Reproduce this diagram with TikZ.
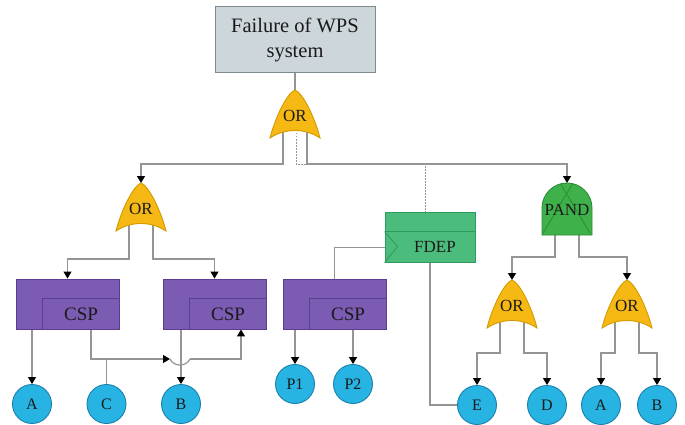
\documentclass[tikz,border=0pt]{standalone}
\usepackage{fontspec}
\setmainfont{Liberation Serif}
\usetikzlibrary{arrows.meta,calc}
\pgfdeclarelayer{bg}
\pgfsetlayers{bg,main}

\definecolor{titlefill}{HTML}{CDD6DA}
\definecolor{titledraw}{HTML}{7F8A8F}
\definecolor{orfill}{HTML}{F6B913}
\definecolor{ordraw}{HTML}{D39A00}
\definecolor{pandfill}{HTML}{3FB14B}
\definecolor{panddraw}{HTML}{2C8C37}
\definecolor{fdepfill}{HTML}{4CBC7C}
\definecolor{fdepdraw}{HTML}{2F9A5E}
\definecolor{cspfill}{HTML}{7C5BB3}
\definecolor{cspdraw}{HTML}{5B3E91}
\definecolor{circfill}{HTML}{27B4E2}
\definecolor{circdraw}{HTML}{1A80AC}
\definecolor{wiregray}{HTML}{959595}
\definecolor{ink}{HTML}{1A1A1A}

\tikzset{
  wire/.style={draw=wiregray, line width=1.2pt},
  arr/.style={wire, -{Triangle[length=7pt,width=8pt,color=black]}},
  dotwire/.style={draw=wiregray, line width=1pt, dash pattern=on 1.5pt off 1.5pt},
  gatelbl/.style={text=ink, font=\fontsize{17}{20}\selectfont, inner sep=0pt},
  titlebox/.style={draw=titledraw, fill=titlefill, line width=1pt,
    minimum width=160pt, minimum height=66pt, align=center, text=ink,
    font=\fontsize{20.5}{25}\selectfont},
  cspbox/.style={draw=cspdraw, fill=cspfill, line width=0.9pt,
    minimum width=103pt, minimum height=50pt, inner sep=0pt},
  csplbl/.style={text=ink, font=\fontsize{19}{22}\selectfont, inner sep=0pt},
  fdepbox/.style={draw=fdepdraw, fill=fdepfill, line width=0.9pt,
    minimum width=90pt, minimum height=50pt, inner sep=0pt},
  event/.style={circle, draw=circdraw, fill=circfill, line width=0.9pt,
    minimum size=39pt, inner sep=0pt, text=ink,
    font=\fontsize{16}{18}\selectfont},
  % OR gate: apex at the pic origin, y grows downward
  orgate/.pic={
    \path[draw=ordraw, fill=orfill, line width=0.9pt]
      (0,0) .. controls (8,3) and (20,28) .. (25,48)
      .. controls (10,38) and (-10,38) .. (-25,48)
      .. controls (-20,28) and (-8,3) .. (0,0) -- cycle;
    \node[gatelbl] (-lbl) at (0,26) {OR};
    \coordinate (-in) at (0,0);
    \coordinate (-l) at (-12,40);
    \coordinate (-r) at (12,40);
    \coordinate (-m) at (1,40);
  },
  % priority AND gate: dome on a rectangle
  pandgate/.pic={
    \path[draw=panddraw, fill=pandfill, line width=0.9pt]
      (-25,52) -- (-25,25) .. controls (-25,11.2) and (-13.8,0) .. (0,0)
      .. controls (13.8,0) and (25,11.2) .. (25,25) -- (25,52) -- cycle;
    \begin{scope}
      \clip (-25,52) -- (-25,25) .. controls (-25,11.2) and (-13.8,0) .. (0,0)
        .. controls (13.8,0) and (25,11.2) .. (25,25) -- (25,52) -- cycle;
      \draw[panddraw, line width=0.8pt] (6,0) -- (-24,50);
      \draw[panddraw, line width=0.8pt] (-7,0) -- (23,50);
    \end{scope}
    \node[gatelbl] (-lbl) at (0,27) {PAND};
    \coordinate (-in) at (0,0);
    \coordinate (-l) at (-12,46);
    \coordinate (-r) at (12,46);
  }
}

\begin{document}
\begin{tikzpicture}[x=1pt,y=-1pt]
\useasboundingbox (0,0) rectangle (685,425);

% top event
\node[titlebox] (top) at (295,39.5) {Failure of WPS\\system};

% gates
\pic (g0) at (295,90) {orgate};
\pic (g1) at (141,183) {orgate};
\pic (pand) at (567,183) {pandgate};
\pic (g3) at (512,280) {orgate};
\pic (g4) at (627,280) {orgate};

% spare gates
\foreach \n/\x in {csp1/67.5, csp2/214.5, csp3/334.5}{
  \node[cspbox] (\n) at (\x,304) {};
  \draw[cspdraw, line width=0.9pt]
    ([xshift=27pt]\n.south west) |- ([yshift=-20pt]\n.north east);
  \node[csplbl] (\n t) at ([xshift=13.5pt,yshift=-10pt]\n.center) {CSP};
}

% functional dependency gate
\node[fdepbox] (fdep) at (430,237) {};
\draw[fdepdraw, line width=0.9pt]
  ([yshift=-20pt]fdep.north west) -- ([yshift=-20pt]fdep.north east);
\draw[fdepdraw, line width=0.9pt]
  ([yshift=-20pt]fdep.north west) -- ([xshift=13pt,yshift=-35pt]fdep.north west)
  -- (fdep.south west);
\node[gatelbl] (fdept) at ([xshift=5pt,yshift=-10pt]fdep.center) {FDEP};

% basic events
\node[event] (A)  at (32,404)  {A};
\node[event] (C)  at (106.5,404) {C};
\node[event] (B)  at (181,404) {B};
\node[event] (P1) at (295,384) {P1};
\node[event] (P2) at (353,384) {P2};
\node[event] (E)  at (477,405) {E};
\node[event] (D)  at (547,405) {D};
\node[event] (A2) at (601,405) {A};
\node[event] (B2) at (657,405) {B};

% bus levels and the jump over the B line
\coordinate (bus0) at (0,164);
\coordinate (bus1) at (0,259);
\coordinate (bus2) at (0,257);
\coordinate (bus3) at (0,353);
\coordinate (hopL) at (170,359);
\coordinate (hopR) at (190,359);

\begin{pgfonlayer}{bg}
  \draw[wire] (top.south) -- (g0-in);
  \draw[arr] (g0-l) -- (g0-l |- bus0) -| (g1-in);
  \draw[dotwire] (g0-m) -- (g0-m |- bus0) -| ([xshift=-5pt]fdep.north);
  \draw[arr] (g0-r) -- (g0-r |- bus0) -| (pand-in);

  \draw[arr] (g1-l) -- (g1-l |- bus1) -| (csp1.north);
  \draw[arr] (g1-r) -- (g1-r |- bus1) -| (csp2.north);

  \draw[arr] (A.north |- csp1.south) -- (A.north);
  \draw[arr] ([xshift=23.5pt]csp1.south) |- (hopL);
  \draw[wire] (C.north) -- (C.north |- hopL);
  \draw[wire] (hopL) .. controls (174,367) and (186,367) .. (hopR);
  \draw[arr] (hopR) -| ([xshift=26.5pt]csp2.south);
  \draw[arr] (B.north |- csp2.south) -- (B.north);

  \draw[wire] (csp3.north) |- ($(fdep.south west)!0.3!(fdep.north west)$);
  \draw[arr] (P1.north |- csp3.south) -- (P1.north);
  \draw[arr] (P2.north |- csp3.south) -- (P2.north);
  \draw[wire] (fdep.south) |- (E.west);

  \draw[arr] (pand-l) -- (pand-l |- bus2) -| (g3-in);
  \draw[arr] (pand-r) -- (pand-r |- bus2) -| (g4-in);

  \draw[arr] (g3-l) -- (g3-l |- bus3) -| (E.north);
  \draw[arr] (g3-r) -- (g3-r |- bus3) -| (D.north);
  \draw[arr] (g4-l) -- (g4-l |- bus3) -| (A2.north);
  \draw[arr] (g4-r) -- (g4-r |- bus3) -| (B2.north);
\end{pgfonlayer}
\end{tikzpicture}
\end{document}
